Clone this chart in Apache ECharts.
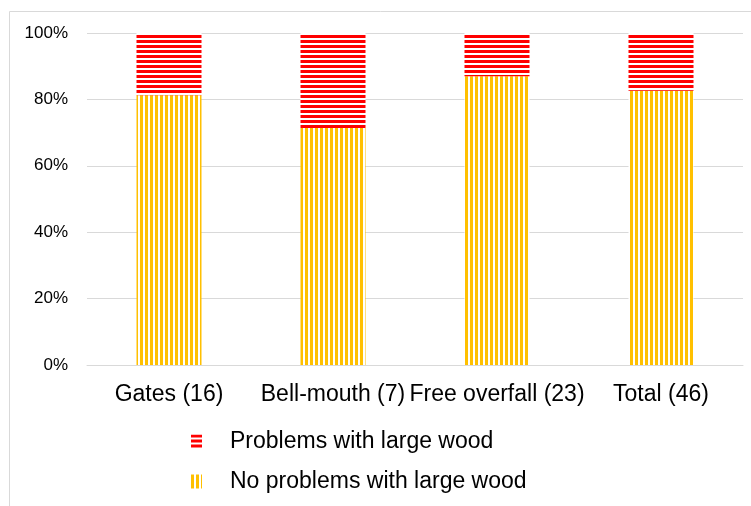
<!DOCTYPE html>
<html><head><meta charset="utf-8">
<script src="https://cdn.jsdelivr.net/npm/echarts@6/dist/echarts.min.js"></script>
<style>html,body{margin:0;padding:0;background:#fff}#c{width:751px;height:506px}</style>
</head><body><div id="c"></div>
<script>
var categories = ['Gates (16)', 'Bell-mouth (7)', 'Free overfall (23)', 'Total (46)'];
var noProblems = [81.25, 71.4, 86.96, 82.6];
var problems = [18.75, 28.6, 13.04, 17.4];
var yTicks = [0, 20, 40, 60, 80, 100];
var seriesNames = ['No problems with large wood', 'Problems with large wood'];

function stripe(color, vertical) {
  var c = document.createElement('canvas');
  c.width = 5; c.height = 5;
  var ctx = c.getContext('2d');
  ctx.fillStyle = '#ffffff';
  ctx.fillRect(0, 0, 5, 5);
  ctx.fillStyle = color;
  if (vertical) ctx.fillRect(0, 0, 3, 5); else ctx.fillRect(0, 0, 5, 3);
  return { image: c, repeat: 'repeat' };
}
var yellow = stripe('#FFC000', true);
var red = stripe('#FF0000', false);

var chart = echarts.init(document.getElementById('c'));
chart.setOption({
  animation: false,
  graphic: [{ type: 'rect', shape: { x: 9.5, y: 11.5, width: 800, height: 600 }, style: { fill: 'none', stroke: '#d9d9d9', lineWidth: 1 }, silent: true }],
  grid: { left: 87, right: 8, top: 33, bottom: 141 },
  xAxis: {
    type: 'category', data: categories,
    axisLine: { lineStyle: { color: '#d9d9d9' } },
    axisTick: { show: false },
    axisLabel: { color: '#000', fontSize: 23, fontFamily: 'Liberation Sans, Arial', margin: 18, interval: 0 }
  },
  yAxis: {
    type: 'value', min: yTicks[0], max: yTicks[yTicks.length - 1], interval: 20,
    axisLine: { show: false }, axisTick: { show: false },
    splitLine: { lineStyle: { color: '#d9d9d9' } },
    axisLabel: { formatter: '{value}%', color: '#000', fontSize: 17, fontFamily: 'Liberation Sans, Arial', margin: 19 }
  },
  legend: {
    orient: 'vertical', left: 186, top: 425, itemGap: 17,
    itemWidth: 11, itemHeight: 14, icon: 'rect',
    data: [seriesNames[1], seriesNames[0]],
    textStyle: { color: '#000', fontSize: 23, fontFamily: 'Liberation Sans, Arial', padding: [0, 0, 0, 23] }
  },
  series: [
    { name: seriesNames[0], type: 'bar', stack: 's', data: noProblems, barWidth: 65, itemStyle: { color: yellow } },
    { name: seriesNames[1], type: 'bar', stack: 's', data: problems, barWidth: 65, itemStyle: { color: red } }
  ]
});
</script></body></html>
